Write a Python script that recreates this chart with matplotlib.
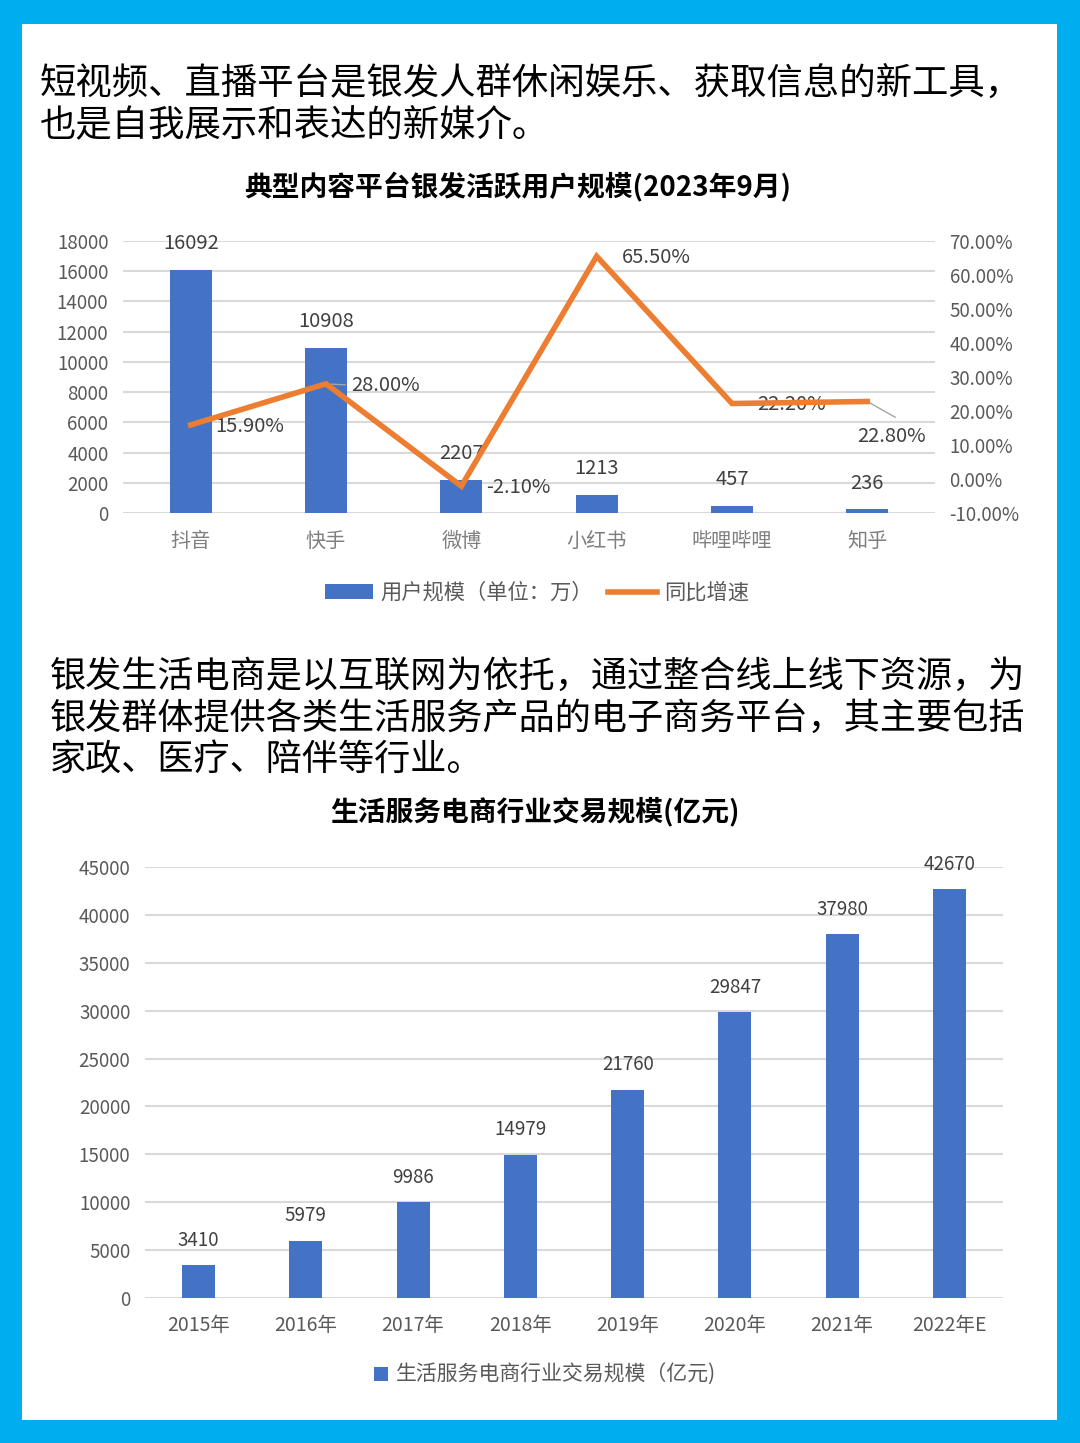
import matplotlib.pyplot as plt
from matplotlib.patches import Rectangle, Patch
from matplotlib.lines import Line2D

plt.rcParams['font.family'] = ['Noto Sans CJK SC', 'DejaVu Sans']

# chart 1 data
platforms = ['抖音', '快手', '微博', '小红书', '哔哩哔哩', '知乎']
users = [16092, 10908, 2207, 1213, 457, 236]
growth = [15.90, 28.00, -2.10, 65.50, 22.20, 22.80]

# chart 2 data
years = ['2015年', '2016年', '2017年', '2018年', '2019年', '2020年', '2021年', '2022年E']
volume = [3410, 5979, 9986, 14979, 21760, 29847, 37980, 42670]

BLUE = '#4472C4'
ORANGE = '#ED7D31'
GRID = '#D9D9D9'
TICK = '#595959'
LABEL = '#404040'

W, H = 1080, 1443
fig = plt.figure(figsize=(W / 100, H / 100), dpi=100)
fig.patch.set_facecolor('#00AEEF')
fig.add_artist(Rectangle((22 / W, (H - 1420) / H), (1057 - 22) / W, (1420 - 24) / H,
                         transform=fig.transFigure, facecolor='white', edgecolor='none', zorder=0))


def fx(px):
    return px / W


def fy(py):
    return (H - py) / H


# header texts
fig.text(fx(40), fy(85), '短视频、直播平台是银发人群休闲娱乐、获取信息的新工具，', fontsize=26.2,
         va='center', ha='left', color='black')
fig.text(fx(40), fy(126), '也是自我展示和表达的新媒介。', fontsize=26.2,
         va='center', ha='left', color='black')
fig.text(fx(518), fy(186), '典型内容平台银发活跃用户规模(2023年9月)', fontsize=20,
         fontweight='bold', ha='center', va='center', color='black')

para2 = ['银发生活电商是以互联网为依托，通过整合线上线下资源，为',
         '银发群体提供各类生活服务产品的电子商务平台，其主要包括',
         '家政、医疗、陪伴等行业。']
for i, line in enumerate(para2):
    fig.text(fx(50), fy(677 + i * 41.5), line, fontsize=26, va='center', ha='left', color='black')
fig.text(fx(535), fy(812), '生活服务电商行业交易规模(亿元)', fontsize=20,
         fontweight='bold', ha='center', va='center', color='black')

# ---------- chart 1 ----------
ax1 = fig.add_axes([fx(123), fy(513), fx(935) - fx(123), fy(241) - fy(513)])
ax1.set_facecolor('none')
x1 = list(range(len(platforms)))
ax1.bar(x1, users, width=0.31, color=BLUE, zorder=3)
ax1.set_xlim(-0.5, len(platforms) - 0.5)
ax1.set_ylim(0, 18000)
ax1.set_yticks(range(0, 18001, 2000))
ax1.set_xticks(x1)
ax1.set_xticklabels(platforms, fontsize=14.5, color='#7F7F7F')
ax1.grid(axis='y', color=GRID, lw=1.5, zorder=0)
for s in ax1.spines.values():
    s.set_visible(False)
ax1.tick_params(axis='y', length=0, pad=10.5, labelsize=13.5, labelcolor=TICK)
ax1.tick_params(axis='x', length=0, pad=13)
for xi, v in zip(x1, users):
    ax1.annotate(str(v), (xi, v), xytext=(0, 19), textcoords='offset points',
                 ha='center', va='center', fontsize=14.5, color=LABEL, zorder=5)

ax1r = ax1.twinx()
ax1r.plot(x1, growth, color=ORANGE, lw=4, zorder=4, solid_joinstyle='miter')
ax1r.set_ylim(-10, 70)
ax1r.set_yticks(range(-10, 71, 10))
ax1r.set_yticklabels(['%.2f%%' % t for t in range(-10, 71, 10)])
for s in ax1r.spines.values():
    s.set_visible(False)
ax1r.tick_params(axis='y', length=0, pad=10.5, labelsize=13.5, labelcolor=TICK)
for i, (xi, g) in enumerate(zip(x1, growth)):
    txt = '%.2f%%' % g
    if i == len(growth) - 1:
        ax1r.annotate(txt, (xi, g), xytext=(-7, -25), textcoords='offset points',
                      ha='left', va='center', fontsize=14.5, color=LABEL,
                      arrowprops=dict(arrowstyle='-', color='#A6A6A6', lw=1,
                                      shrinkA=0, shrinkB=0, relpos=(0.55, 1.4)))
    elif i == 1:
        ax1r.annotate(txt, (xi, g), xytext=(18, -1), textcoords='offset points',
                      ha='left', va='center', fontsize=14.5, color=LABEL,
                      arrowprops=dict(arrowstyle='-', color='#A6A6A6', lw=1,
                                      shrinkA=2, shrinkB=4, relpos=(0, 0.5)))
    else:
        ax1r.annotate(txt, (xi, g), xytext=(18, -1), textcoords='offset points',
                      ha='left', va='center', fontsize=14.5, color=LABEL)

leg1 = fig.legend(handles=[Patch(facecolor=BLUE, edgecolor='none', label='用户规模（单位：万）'),
                           Line2D([], [], color=ORANGE, lw=4, label='同比增速')],
                  loc='center', bbox_to_anchor=(fx(537), fy(593)), ncol=2, frameon=False,
                  fontsize=15.3, handlelength=2.3, handletextpad=0.35, columnspacing=0.7)
for t in leg1.get_texts():
    t.set_color(TICK)

# ---------- chart 2 ----------
ax2 = fig.add_axes([fx(145), fy(1298), fx(1003) - fx(145), fy(867) - fy(1298)])
ax2.set_facecolor('none')
x2 = list(range(len(years)))
ax2.bar(x2, volume, width=0.31, color=BLUE, zorder=3)
ax2.set_xlim(-0.5, len(years) - 0.5)
ax2.set_ylim(0, 45000)
ax2.set_yticks(range(0, 45001, 5000))
ax2.set_xticks(x2)
ax2.set_xticklabels(years, fontsize=14, color=TICK)
ax2.grid(axis='y', color=GRID, lw=1.5, zorder=0)
for s in ax2.spines.values():
    s.set_visible(False)
ax2.tick_params(axis='y', length=0, pad=10.5, labelsize=13.5, labelcolor=TICK)
ax2.tick_params(axis='x', length=0, pad=12)
for xi, v in zip(x2, volume):
    ax2.annotate(str(v), (xi, v), xytext=(0, 18), textcoords='offset points',
                 ha='center', va='center', fontsize=13.5, color=LABEL, zorder=5)

leg2 = fig.legend(handles=[Patch(facecolor=BLUE, edgecolor='none', label='生活服务电商行业交易规模（亿元)')],
                  loc='center', bbox_to_anchor=(fx(545), fy(1375)), frameon=False,
                  fontsize=15, handlelength=0.65, handleheight=0.65, handletextpad=0.4)
for t in leg2.get_texts():
    t.set_color(TICK)

fig.savefig('out.png', dpi=100, facecolor=fig.get_facecolor())
